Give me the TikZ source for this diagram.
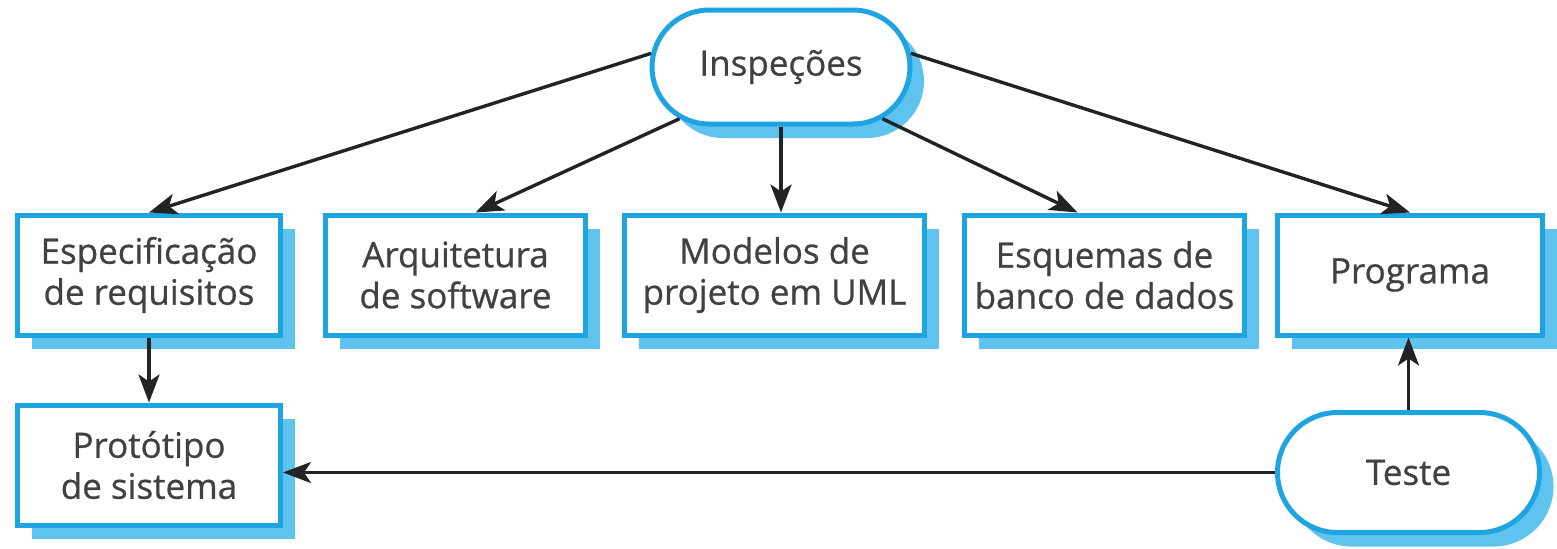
\documentclass[tikz,border=0pt]{standalone}
\usepackage{fontspec}
\setmainfont{Open Sans}
\newfontfamily\boxfont{Open Sans}[FakeBold=0.7]
\usetikzlibrary{shapes.misc,shadows,arrows.meta,calc}
\definecolor{bordblue}{RGB}{30,165,225}
\definecolor{shadblue}{RGB}{95,195,240}
\definecolor{txtgray}{RGB}{65,65,65}
\definecolor{arrgray}{RGB}{35,35,35}
\begin{document}
\begin{tikzpicture}[x=0.5pt,y=-0.5pt,
  box/.style={draw=bordblue, line width=2.5pt, fill=white, minimum height=60pt,
    inner sep=0pt, align=center, font=\boxfont\fontsize{17.5}{20.5}\selectfont, text=txtgray,
    drop shadow={shadow xshift=7pt, shadow yshift=-7pt, fill=shadblue, opacity=1}},
  term/.style={box, rounded rectangle},
  arr/.style={-{Stealth[length=14pt,width=10.5pt,inset=3.5pt]}, line width=1.7pt, draw=arrgray}]
\path[use as bounding box] (0,0) rectangle (1557,548);
% nodes
\node[term, minimum width=129pt, minimum height=57pt] (insp) at (781,67) {Inspeções};
\node[box, minimum width=131.5pt] (esp) at (149,275) {Especificação\\de requisitos};
\node[box, minimum width=130pt] (arq) at (455.5,275) {Arquitetura\\de software};
\node[box, minimum width=150pt] (mod) at (774.5,275) {Modelos de\\projeto em UML};
\node[box, minimum width=140pt] (esq) at (1104.5,275) {Esquemas de\\banco de dados};
\node[box, minimum width=132.5pt] (prog) at (1410,275) {Programa};
\node[box, minimum width=131.5pt] (proto) at (149,465) {Protótipo\\de sistema};
\node[term, minimum width=131pt, minimum height=60pt] (teste) at (1408.5,472.5) {Teste};
% connectors
\draw[arr] (insp.174) -- (esp.north);
\draw[arr] (insp.207) -- ($(arq.north)+(20,0)$);
\draw[arr] (insp.south) -- (insp.south |- mod.north);
\draw[arr] (insp.333) -- ($(esq.north)+(-27,0)$);
\draw[arr] (insp.6) -- (prog.north);
\draw[arr] (esp.south) -- (proto.north);
\draw[arr] (teste.north) -- (teste.north |- prog.south);
\draw[arr] (teste.west) -- (teste.west -| proto.east);
\end{tikzpicture}
\end{document}
